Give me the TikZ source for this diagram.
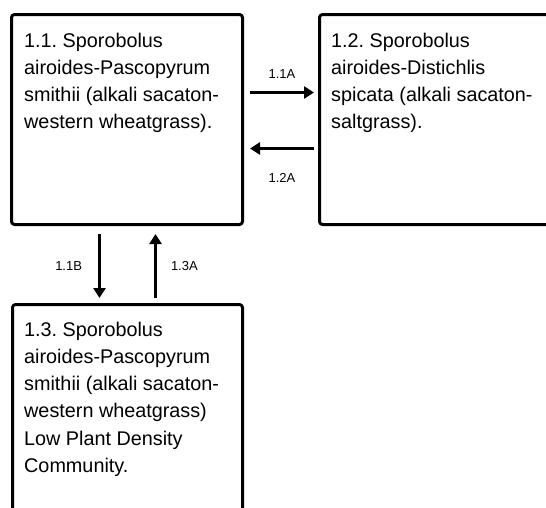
\documentclass[tikz,border=0pt]{standalone}
\usepackage{fontspec}
\setmainfont{Liberation Sans}
\usetikzlibrary{arrows.meta}
\frenchspacing
\tikzset{
	statebox/.style={draw, line width=3pt, rounded corners=3pt, inner sep=0pt, anchor=north west},
	statetext/.style={anchor=north west, align=left, inner sep=0pt, font=\fontsize{19.8}{27.3}\selectfont},
	trans/.style={line width=3pt, -{Triangle[length=10pt,width=12pt]}},
	translabel/.style={inner sep=0pt, font=\fontsize{13}{15}\selectfont}
}
\begin{document}
\begin{tikzpicture}[x=1pt, y=-1pt, line join=round]
	\useasboundingbox (0,0) rectangle (546,507);
	\clip (0,0) rectangle (546,507);
	\node[statebox, minimum width=231pt, minimum height=210pt] (b11) at (10,13) {};
	\node[statebox, minimum width=260pt, minimum height=210pt] (b12) at (318,13) {};
	\node[statebox, minimum width=230pt, minimum height=240pt] (b13) at (11,303) {};
	\node[statetext] (t11) at ([shift={(14pt,-19.5pt)}]b11.north west) {1.1. Sporobolus\\airoides-Pascopyrum\\smithii (alkali sacaton-\\western wheatgrass).};
	\node[statetext] (t12) at ([shift={(13pt,-19.5pt)}]b12.north west) {1.2. Sporobolus\\airoides-Distichlis\\spicata (alkali sacaton-\\saltgrass).};
	\node[statetext] (t13) at ([shift={(13pt,-18.5pt)}]b13.north west) {1.3. Sporobolus\\airoides-Pascopyrum\\smithii (alkali sacaton-\\western wheatgrass)\\Low Plant Density\\Community.};
	\draw[trans] ([shift={(6pt,27pt)}]b11.east) -- ([shift={(-4pt,27pt)}]b12.west) node[translabel, midway, above=13pt] (l11a) {1.1A};
	\draw[trans] ([shift={(-4pt,-29pt)}]b12.west) -- ([shift={(6pt,-29pt)}]b11.east) node[translabel, midway, below=23pt] (l12a) {1.2A};
	\draw[trans] ([shift={(-27.5pt,-8pt)}]b11.south) -- ([shift={(-28pt,5pt)}]b13.north) node[translabel, midway, left=16pt] (l11b) {1.1B};
	\draw[trans] ([shift={(28pt,5pt)}]b13.north) -- ([shift={(28.5pt,-8pt)}]b11.south) node[translabel, midway, right=14pt] (l13a) {1.3A};
\end{tikzpicture}
\end{document}
